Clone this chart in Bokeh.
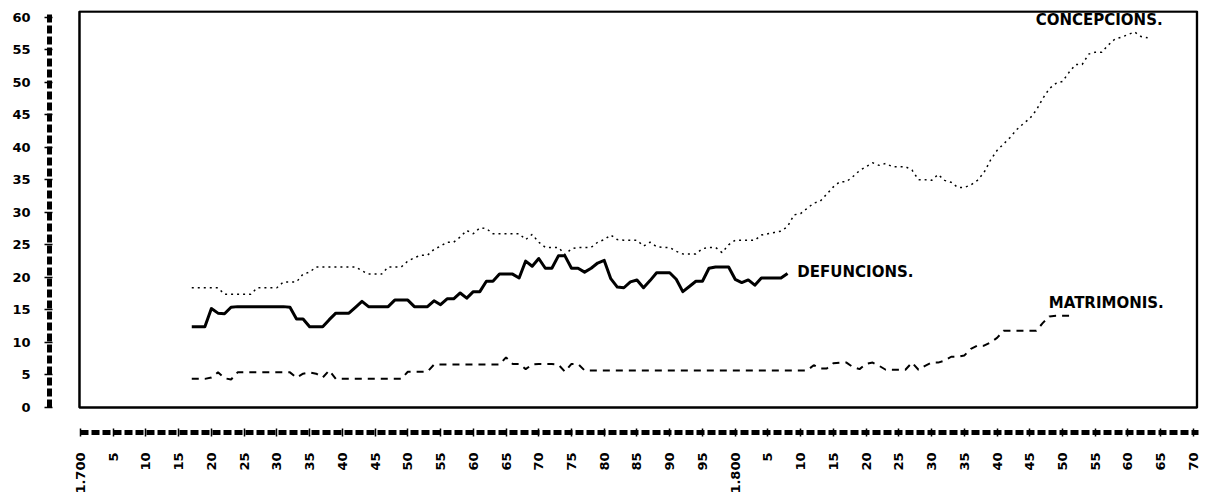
import math
from bokeh.plotting import figure
from bokeh.models import Range1d, FixedTicker, ColumnDataSource, BoxAnnotation
from bokeh.core.properties import value
from bokeh.embed import file_html
from bokeh.resources import INLINE

# ---------------- data ----------------
defunc_start = 1717
defuncions = [12.4, 12.4, 12.4, 15.2, 14.5, 14.4, 15.4, 15.5, 15.5, 15.5,
              15.5, 15.5, 15.5, 15.5, 15.5, 15.4, 13.6, 13.6, 12.4, 12.4,
              12.4, 13.5, 14.5, 14.5, 14.5, 15.4, 16.3, 15.5, 15.5, 15.5,
              15.5, 16.5, 16.5, 16.5, 15.5, 15.5, 15.5, 16.4, 15.8, 16.7,
              16.7, 17.6, 16.8, 17.8, 17.8, 19.4, 19.4, 20.5, 20.5, 20.5,
              19.9, 22.5, 21.7, 22.9, 21.4, 21.4, 23.3, 23.3, 21.4, 21.4,
              20.8, 21.4, 22.2, 22.6, 19.8, 18.5, 18.4, 19.3, 19.6, 18.4,
              19.5, 20.7, 20.7, 20.7, 19.7, 17.8, 18.6, 19.4, 19.4, 21.4,
              21.6, 21.6, 21.6, 19.7, 19.2, 19.6, 18.8, 19.9, 19.9, 19.9,
              19.9, 20.6]

concep_start = 1717
concepcions = [18.4, 18.4, 18.4, 18.4, 18.4, 17.4, 17.4, 17.4, 17.4, 17.4,
               18.4, 18.4, 18.4, 18.4, 19.3, 19.3, 19.3, 20.5, 20.8, 21.6,
               21.6, 21.6, 21.6, 21.6, 21.6, 21.6, 21.0, 20.5, 20.5, 20.5,
               21.6, 21.6, 21.6, 22.5, 23.0, 23.4, 23.4, 24.3, 24.8, 25.4,
               25.4, 26.2, 27.2, 26.7, 27.6, 27.5, 26.7, 26.7, 26.7, 26.7,
               26.7, 25.8, 26.6, 25.4, 24.6, 24.6, 24.6, 23.5, 24.4, 24.6,
               24.6, 24.6, 25.4, 25.8, 26.5, 25.8, 25.7, 25.7, 25.7, 24.8,
               25.4, 24.7, 24.6, 24.6, 24.0, 23.6, 23.6, 23.6, 24.4, 24.6,
               24.6, 23.8, 25.0, 25.7, 25.7, 25.7, 25.7, 26.5, 26.7, 26.9,
               27.1, 27.8, 29.6, 29.8, 30.6, 31.4, 31.7, 32.8, 33.9, 34.7,
               34.7, 35.5, 36.4, 37.0, 37.6, 37.2, 37.5, 37.0, 37.0, 37.0,
               36.5, 35.0, 35.0, 34.9, 35.8, 34.9, 34.6, 33.8, 33.8, 34.2,
               34.9, 36.1, 38.0, 39.5, 40.5, 41.5, 42.7, 43.6, 44.4, 45.7,
               47.5, 49.0, 49.8, 50.1, 51.5, 52.7, 52.7, 54.3, 54.6, 54.6,
               55.7, 56.6, 56.9, 57.3, 57.7, 57.0, 56.8]

matri_start = 1717
matrimonis = [4.4, 4.4, 4.4, 4.6, 5.4, 4.5, 4.3, 5.4, 5.4, 5.4,
              5.4, 5.4, 5.4, 5.4, 5.4, 5.4, 4.6, 5.2, 5.4, 5.2,
              4.6, 5.7, 4.4, 4.4, 4.4, 4.4, 4.4, 4.4, 4.4, 4.4,
              4.4, 4.4, 4.4, 5.5, 5.5, 5.5, 5.5, 6.6, 6.6, 6.6,
              6.6, 6.6, 6.6, 6.6, 6.6, 6.6, 6.6, 6.6, 7.7, 6.7,
              6.7, 5.9, 6.6, 6.7, 6.7, 6.7, 6.6, 5.5, 6.7, 6.7,
              5.7, 5.7, 5.7, 5.7, 5.7, 5.7, 5.7, 5.7, 5.7, 5.7,
              5.7, 5.7, 5.7, 5.7, 5.7, 5.7, 5.7, 5.7, 5.7, 5.7,
              5.7, 5.7, 5.7, 5.7, 5.7, 5.7, 5.7, 5.7, 5.7, 5.7,
              5.7, 5.7, 5.7, 5.7, 5.7, 6.5, 6.0, 6.0, 6.8, 6.9,
              6.9, 6.2, 5.9, 6.7, 6.9, 6.4, 5.8, 5.8, 5.8, 5.8,
              6.9, 5.8, 6.4, 6.9, 6.9, 7.2, 7.8, 7.8, 8.0, 9.0,
              9.5, 9.5, 10.0, 10.7, 11.8, 11.8, 11.8, 11.8, 11.8, 11.8,
              13.0, 14.0, 14.1, 14.1, 14.1]

x_tick_years = list(range(1700, 1871, 5))
x_tick_labels = ["1.700", "5", "10", "15", "20", "25", "30", "35", "40", "45",
                 "50", "55", "60", "65", "70", "75", "80", "85", "90", "95",
                 "1.800", "5", "10", "15", "20", "25", "30", "35", "40", "45",
                 "50", "55", "60", "65", "70"]
y_ticks = list(range(0, 61, 5))

series_labels = ["CONCEPCIONS.", "DEFUNCIONS.", "MATRIMONIS."]
label_x = [1845.9, 1809.5, 1847.9]
label_y = [59.5, 20.8, 16.0]

# ---------------- figure ----------------
X0, X1 = 1695.27, 1870.77
Y0, Y1 = -3.84, 61.0

p = figure(width=1207, height=501, x_range=Range1d(X0, X1), y_range=Range1d(Y0, Y1),
           output_backend="svg", toolbar_location=None,
           min_border_left=49, min_border_right=9, min_border_top=10, min_border_bottom=69)
p.outline_line_color = None
p.grid.visible = False
p.background_fill_color = "white"
p.border_fill_color = "white"

# inner chart frame
frame_box = BoxAnnotation(left=1699.85, right=1870.55, bottom=0, top=60.85,
                          fill_alpha=0, fill_color=None, line_color="black",
                          line_width=2.5, line_alpha=1.0)
p.add_layout(frame_box)

def yrs(start, vals):
    return list(range(start, start + len(vals)))

p.line(yrs(concep_start, concepcions), concepcions, line_color="black",
       line_width=1.5, line_dash="2 4")
p.line(yrs(defunc_start, defuncions), defuncions, line_color="black",
       line_width=3, line_join="round")
p.line(yrs(matri_start, matrimonis), matrimonis, line_color="black",
       line_width=2, line_dash="7 6")

src = ColumnDataSource(dict(x=label_x, y=label_y, t=series_labels))
p.text(x="x", y="y", text="t", source=src, text_font=value("DejaVu Sans"),
       text_font_style="bold", text_font_size="15px", text_color="black",
       text_baseline="alphabetic", text_align="left")

# x axis (ruler)
xa = p.xaxis[0]
xa.ticker = FixedTicker(ticks=x_tick_years)
xa.major_label_overrides = {t: l for t, l in zip(x_tick_years, x_tick_labels)}
xa.major_label_orientation = math.pi / 2
xa.bounds = (1700, X1)
xa.axis_line_width = 5
xa.axis_line_dash = "8 3"
xa.axis_line_color = "black"
xa.major_tick_line_color = "black"
xa.major_tick_line_width = 1.5
xa.major_tick_in = 4
xa.major_tick_out = 4
xa.minor_tick_line_color = None
xa.major_label_standoff = 16
xa.major_label_text_font = "DejaVu Sans"
xa.major_label_text_font_style = "bold"
xa.major_label_text_font_size = "13px"
xa.major_label_text_color = "black"

# y axis (ruler)
ya = p.yaxis[0]
ya.ticker = FixedTicker(ticks=y_ticks)
ya.bounds = (0, 60.5)
ya.axis_line_width = 5
ya.axis_line_dash = "8 3"
ya.axis_line_color = "black"
ya.major_tick_line_color = "black"
ya.major_tick_line_width = 1.5
ya.major_tick_in = 3
ya.major_tick_out = 5
ya.minor_tick_line_color = None
ya.major_label_standoff = 14
ya.major_label_text_font = "DejaVu Sans"
ya.major_label_text_font_style = "bold"
ya.major_label_text_font_size = "13px"
ya.major_label_text_color = "black"

open("out.html", "w").write(file_html(p, INLINE))
